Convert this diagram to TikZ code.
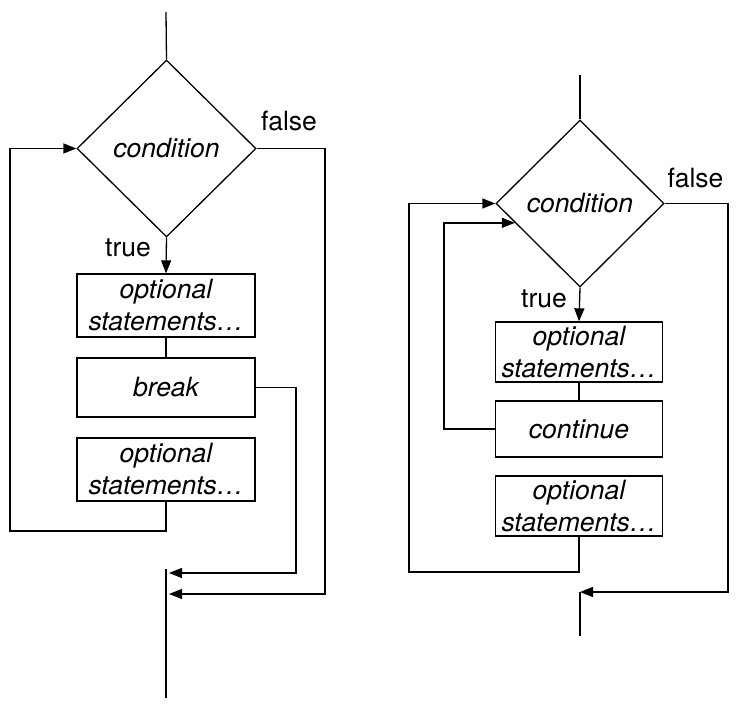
\documentclass[tikz,border=0pt]{standalone}
\usepackage{fontspec}
\setmainfont{TeX Gyre Heros}
\usetikzlibrary{calc}
\usetikzlibrary{arrows.meta}
\usetikzlibrary{shapes.geometric}

\tikzset{
  cond/.style={draw, line width=1.3pt, diamond, inner sep=0pt, font=\fontsize{26.5}{32}\selectfont\itshape},
  stmt/.style={draw, line width=1.3pt, rectangle, inner sep=0pt, align=center, font=\fontsize{26.5}{32}\selectfont\itshape},
  lbl/.style={font=\fontsize{26.5}{32}\selectfont},
  flow/.style={black, line width=1.3pt},
  tip/.style={-{Triangle[length=13pt,width=10pt]}},
}

\begin{document}
\begin{tikzpicture}[x=1pt,y=-1pt]

\useasboundingbox (0,0) rectangle (746,714);

\coordinate (Ltop) at (166,12);
\node[cond, minimum width=179pt, minimum height=177pt] (Lcond) at (166.5,148.5) {condition};
\node[stmt, minimum width=178pt, minimum height=63pt] (Lopt1) at (166,305.5) {optional\\statements…};
\node[stmt, minimum width=178pt, minimum height=59pt] (Lbreak) at (166,387.5) {break};
\node[stmt, minimum width=178pt, minimum height=63pt] (Lopt2) at (166,469.5) {optional\\statements…};
\node[lbl] (Lfalselbl) at (289,121) {false};
\node[lbl] (Ltruelbl) at (128,248) {true};

\coordinate (Lloop) at (10,531);
\coordinate (Lbrk) at (296,573);
\coordinate (Lbrkend) at (169,573);
\coordinate (Lfalse) at (325,594);
\coordinate (Lfalseend) at (169,594);
\coordinate (Lexit) at (166,569);
\coordinate (Lend) at (166,698);

\draw[flow] (Ltop)--(Lcond.north);
\draw[flow,tip] (Lcond.south)--(Lopt1.north);
\draw[flow] (Lopt1.south)--(Lbreak.north);
\draw[flow,tip] (Lopt2.south) |- (Lloop) |- (Lcond.west);
\draw[flow,tip] (Lbreak.east) -| (Lbrk) -- (Lbrkend);
\draw[flow,tip] (Lcond.east) -| (Lfalse) -- (Lfalseend);
\draw[flow] (Lexit)--(Lend);

\coordinate (Rtop) at (580,75);
\node[cond, minimum width=168pt, minimum height=167pt] (Rcond) at (580,203.5) {condition};
\node[stmt, minimum width=167pt, minimum height=60pt] (Ropt1) at (579,352) {optional\\statements…};
\node[stmt, minimum width=167pt, minimum height=56pt] (Rcont) at (579,429) {continue};
\node[stmt, minimum width=167pt, minimum height=60pt] (Ropt2) at (579,506) {optional\\statements…};
\node[lbl] (Rfalselbl) at (695.5,178) {false};
\node[lbl] (Rtruelbl) at (544,299) {true};

\coordinate (Rloop) at (409,572);
\coordinate (Rcontin) at ($(Rcond.west)!0.23!(Rcond.south)$);
\coordinate (Rcl) at (444,0);
\coordinate (Rfalse) at (728,592);
\coordinate (Rexit) at (580,592);
\coordinate (Rend) at (580,636);

\draw[flow] (Rtop)--(Rcond.north);
\draw[flow,tip] (Rcond.south)--(Ropt1.north);
\draw[flow] (Ropt1.south)--(Rcont.north);
\draw[flow,tip] (Ropt2.south) |- (Rloop) |- (Rcond.west);
\draw[flow,tip] (Rcont.west) -| (Rcl |- Rcontin) -- (Rcontin);
\draw[flow,tip] (Rcond.east) -| (Rfalse) -- (Rexit);
\draw[flow] (Rexit)--(Rend);

\end{tikzpicture}
\end{document}
